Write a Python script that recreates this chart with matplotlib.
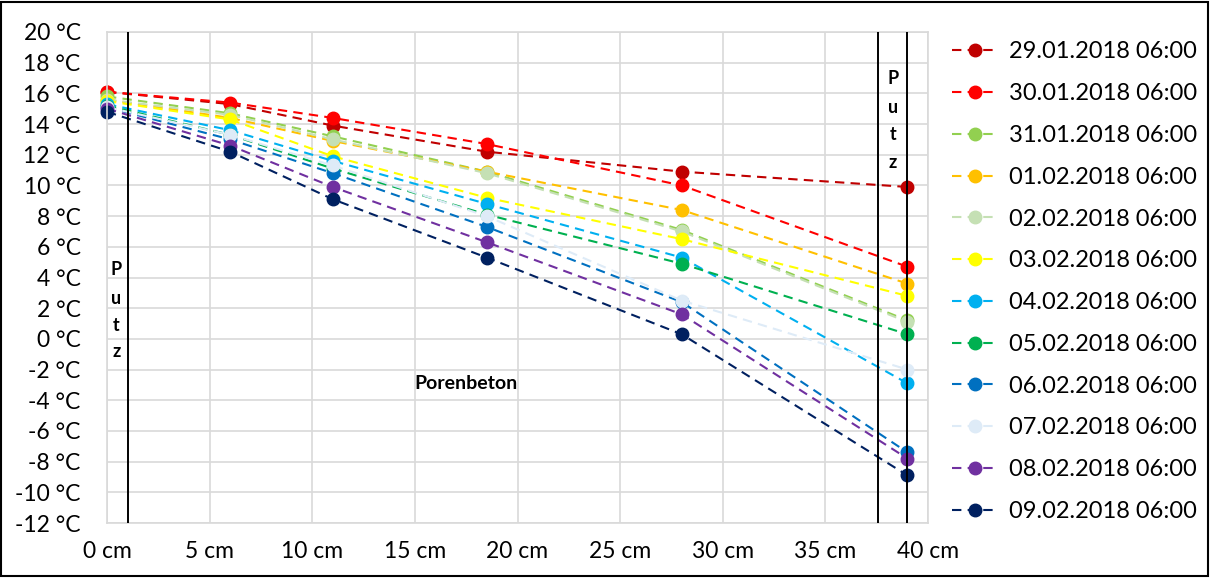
import matplotlib.pyplot as plt
from matplotlib.patches import Rectangle

plt.rcParams['font.family'] = ['Lato', 'DejaVu Sans']

# depth positions of the sensors (cm)
depth_cm = [0, 6, 11, 18.5, 28, 39]

dates = ["29.01.2018 06:00", "30.01.2018 06:00", "31.01.2018 06:00",
         "01.02.2018 06:00", "02.02.2018 06:00", "03.02.2018 06:00",
         "04.02.2018 06:00", "05.02.2018 06:00", "06.02.2018 06:00",
         "07.02.2018 06:00", "08.02.2018 06:00", "09.02.2018 06:00"]

colors = ["#C00000", "#FF0000", "#92D050", "#FFC000", "#C5E0B4", "#FFFF00",
          "#00B0F0", "#00B050", "#0070C0", "#DEEBF7", "#7030A0", "#002060"]

# temperatures (°C) per date at each depth
t_2901 = [16.1, 15.3, 13.9, 12.2, 10.9, 9.9]
t_3001 = [16.1, 15.4, 14.4, 12.7, 10.0, 4.7]
t_3101 = [15.8, 14.7, 13.2, 10.9, 7.1, 1.2]
t_0102 = [15.6, 14.4, 12.9, 10.9, 8.4, 3.6]
t_0202 = [15.6, 14.6, 13.0, 10.8, 7.0, 1.1]
t_0302 = [15.5, 14.3, 11.9, 9.2, 6.5, 2.8]
t_0402 = [15.3, 13.6, 11.6, 8.8, 5.3, -2.9]
t_0502 = [15.2, 13.3, 11.1, 8.1, 4.9, 0.3]
t_0602 = [15.1, 13.0, 10.8, 7.3, 2.4, -7.4]
t_0702 = [15.1, 13.3, 11.3, 8.0, 2.5, -2.0]
t_0802 = [15.0, 12.6, 9.9, 6.3, 1.6, -7.8]
t_0902 = [14.8, 12.2, 9.1, 5.3, 0.3, -8.9]

series = [t_2901, t_3001, t_3101, t_0102, t_0202, t_0302,
          t_0402, t_0502, t_0602, t_0702, t_0802, t_0902]

# layer boundaries (cm)
boundaries = [1, 37.55, 39]

fig = plt.figure(figsize=(12.1, 5.78), dpi=100)
ax = fig.add_axes([107 / 1210, 1 - 523 / 578, (928 - 107) / 1210, (523 - 32) / 578])

for label, col, vals in zip(dates, colors, series):
    ax.plot(depth_cm, vals, linestyle=(0, (4.5, 3)), linewidth=1.5, color=col,
            marker="o", markersize=9, label=label, clip_on=False)

for b in boundaries:
    ax.axvline(b, color="black", linewidth=1.4, zorder=5)

ax.set_xlim(0, 40)
ax.set_ylim(-12, 20)
ax.set_xticks(range(0, 41, 5))
ax.set_xticklabels([f"{v} cm" for v in range(0, 41, 5)])
ax.set_yticks(range(-12, 21, 2))
ax.set_yticklabels([f"{v} °C" for v in range(-12, 21, 2)])
ax.tick_params(axis="both", length=0, labelsize=16.5, colors="#000000")
ax.tick_params(axis="y", pad=19)
ax.tick_params(axis="x", pad=13)
ax.grid(True, color="#D9D9D9", linewidth=1.2)
ax.set_axisbelow(True)
for s in ax.spines.values():
    s.set_color("#D9D9D9")
    s.set_linewidth(1.2)

# layer labels
for ch, yv in zip("Putz", [4.5, 2.6, 0.9, -0.8]):
    ax.text(0.45, yv, ch, ha="center", va="center", fontsize=13, fontweight="bold")
for ch, yv in zip("Putz", [17.0, 15.1, 13.3, 11.5]):
    ax.text(38.3, yv, ch, ha="center", va="center", fontsize=13, fontweight="bold")
ax.text(17.5, -2.9, "Porenbeton", ha="center", va="center", fontsize=14, fontweight="bold")

fig.legend(loc="upper left", bbox_to_anchor=(943 / 1210, 1 - 32 / 578), frameon=False,
           fontsize=17, labelspacing=0.88, handlelength=1.9, handletextpad=0.5,
           borderaxespad=0)

fig.patches.append(Rectangle((0.001, 0.003), 0.997, 0.993, transform=fig.transFigure,
                             fill=False, edgecolor="black", linewidth=1.5))

fig.savefig("out.png", dpi=100)
